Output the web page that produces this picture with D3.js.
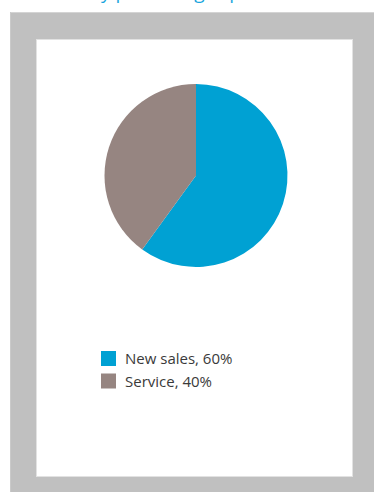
<!DOCTYPE html>
<html>
<head>
<meta charset="utf-8">
<script src="https://cdn.jsdelivr.net/npm/d3@7"></script>
<style>
  html, body { margin: 0; padding: 0; background: #ffffff; }
  svg { display: block; }
</style>
</head>
<body>
<svg id="chart" width="374" height="492"></svg>
<script>
// Revenue split
const categories = ["New sales", "Service"];
const shares = [60, 40];
const colors = ["#00a1d3", "#968581"];
const titleText = "Revenue by percentage split";

const W = 374, H = 492;
const svg = d3.select("#chart");

// heading, mostly above the visible area
svg.append("text")
  .attr("x", 8)
  .attr("y", -1)
  .attr("font-family", "Open Sans, sans-serif")
  .attr("font-size", 19)
  .attr("fill", "#1aa5dd")
  .text(titleText);

// grey frame
svg.append("rect")
  .attr("x", 10).attr("y", 12)
  .attr("width", W - 10).attr("height", H - 12)
  .attr("fill", "#c0c0c0");
svg.append("line")
  .attr("x1", 10).attr("x2", W).attr("y1", 12.5).attr("y2", 12.5)
  .attr("stroke", "#d4d4d4").attr("stroke-width", 1);
svg.append("line")
  .attr("x1", 10.5).attr("x2", 10.5).attr("y1", 12).attr("y2", H)
  .attr("stroke", "#cacaca").attr("stroke-width", 1);

// white card
svg.append("rect")
  .attr("x", 36.5).attr("y", 39.5)
  .attr("width", 316).attr("height", 437)
  .attr("fill", "#ffffff")
  .attr("stroke", "#e2e2e2").attr("stroke-width", 1);

// pie
const data = categories.map((c, i) => ({ name: c, value: shares[i], color: colors[i] }));
const pie = d3.pie().sort(null).value(d => d.value);
const arc = d3.arc().innerRadius(0).outerRadius(91.5);

svg.append("g")
  .attr("transform", "translate(196,175.5)")
  .selectAll("path")
  .data(pie(data))
  .join("path")
  .attr("d", arc)
  .attr("fill", d => d.data.color);

// legend
const legend = svg.append("g").attr("transform", "translate(101,351)");
const item = legend.selectAll("g")
  .data(data)
  .join("g")
  .attr("transform", (d, i) => `translate(0,${i * 22.5})`);
item.append("rect")
  .attr("width", 15).attr("height", 15)
  .attr("fill", d => d.color);
item.append("text")
  .attr("x", 24).attr("y", 13)
  .attr("font-family", "Open Sans, sans-serif")
  .attr("font-size", 15)
  .attr("fill", "#3a3a3a")
  .text(d => `${d.name}, ${d.value}%`);
</script>
</body>
</html>
